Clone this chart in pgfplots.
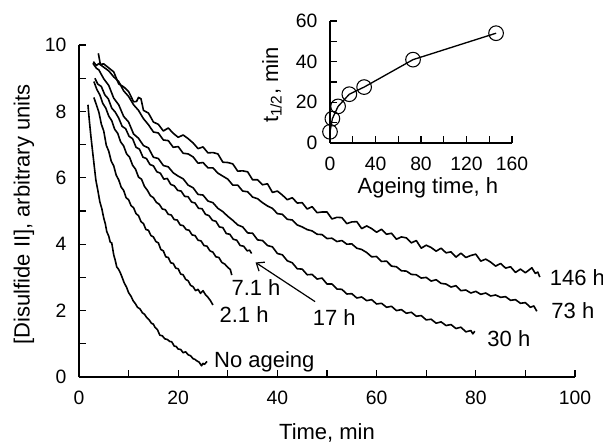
\documentclass[border=0pt]{standalone}
\usepackage{fontspec}
\setmainfont{Liberation Sans}
\usepackage{pgfplots}
\pgfplotsset{compat=1.18}
\usetikzlibrary{arrows.meta}

\newcommand{\lab}{\fontsize{16.5}{19}\selectfont}
\pgfplotsset{curve/.style={black, line width=1.2pt, mark=none, line join=round}}

\begin{document}
\begin{tikzpicture}
\useasboundingbox (-59.25pt,-49.5pt) rectangle (393pt,282.75pt);
% main plot
\begin{axis}[
  at={(0pt,0pt)}, anchor=south west,
  scale only axis, width=372pt, height=249pt,
  xmin=0, xmax=100, ymin=0, ymax=10,
  axis x line*=bottom, axis y line*=left,
  axis line style={-, line width=1pt},
  tick align=inside,
  xtick={0,20,...,100}, minor xtick={10,30,...,90},
  ytick={0,2,...,10}, minor ytick={1,3,...,9},
  major tick length=5pt, minor tick length=5pt,
  every tick/.style={black, line width=1pt},
  /pgf/number format/assume math mode=true,
  tick label style={font=\fontsize{14.5}{17}\selectfont},
  xticklabel style={yshift=-7pt},
  yticklabel style={xshift=-6pt},
  xlabel={Time, min},
  ylabel={[Disulfide II], arbitrary units},
  label style={font=\lab},
  xlabel style={at={(axis description cs:0.5,-0.169)}, anchor=center},
  ylabel style={at={(axis description cs:-0.111,0.49)}, anchor=center},
  clip=false,
]
% no ageing
\addplot[curve] coordinates {(1.8,8.20)(2.1,7.70)(2.4,7.25)(2.7,6.85)(3.0,6.45)(3.4,5.93)(3.8,5.62)(4.2,5.28)(4.6,5.07)(5.0,4.78)(5.3,4.62)(5.6,4.38)(6.0,4.24)(6.3,4.06)(6.6,4.04)(7.0,3.68)(7.3,3.52)(7.6,3.32)(8.0,3.24)(8.3,3.15)(8.7,3.00)(9.1,2.84)(9.6,2.70)(10.0,2.54)(10.5,2.43)(10.9,2.30)(11.4,2.20)(11.8,2.10)(12.3,2.05)(12.8,1.93)(13.2,1.89)(13.6,1.80)(14.1,1.73)(14.6,1.62)(15.0,1.59)(15.3,1.50)(15.8,1.43)(16.3,1.26)(16.8,1.24)(17.3,1.15)(17.8,1.13)(18.3,1.07)(18.7,1.06)(19.2,0.93)(19.6,0.92)(20.0,0.84)(20.5,0.83)(21.0,0.73)(21.5,0.76)(22.0,0.67)(22.5,0.64)(23.0,0.55)(23.4,0.53)(23.7,0.49)(24.2,0.45)(24.7,0.34)(25.0,0.41)(25.3,0.38)(25.8,0.47)};
% 2.1 h
\addplot[curve] coordinates {(3.0,8.42)(3.5,8.20)(4.0,7.98)(4.5,7.62)(5.0,7.40)(5.5,6.98)(6.0,6.80)(6.5,6.50)(7.0,6.36)(7.5,6.08)(8.0,5.94)(8.5,5.72)(9.0,5.62)(9.5,5.40)(10.0,5.34)(10.5,5.16)(11.0,5.10)(11.5,4.92)(12.0,4.86)(12.5,4.68)(13.0,4.62)(13.5,4.44)(14.0,4.42)(14.5,4.26)(15.0,4.22)(15.5,4.08)(16.0,4.04)(16.5,3.84)(17.0,3.80)(17.5,3.62)(18.0,3.60)(18.5,3.44)(19.0,3.42)(19.5,3.28)(20.0,3.26)(20.5,3.10)(21.0,3.08)(21.5,2.94)(22.0,2.90)(22.5,2.76)(23.0,2.72)(23.5,2.60)(24.0,2.64)(24.5,2.52)(25.0,2.60)(25.5,2.48)(26.0,2.40)(26.5,2.30)(27.0,2.17)};
% 7.1 h
\addplot[curve] coordinates {(3.0,8.90)(3.6,8.66)(4.2,8.50)(4.8,8.24)(5.4,8.10)(6.0,7.86)(6.6,7.72)(7.2,7.46)(7.8,7.34)(8.4,7.08)(9.0,6.96)(9.6,6.72)(10.2,6.62)(10.8,6.38)(11.4,6.26)(12.0,6.02)(12.6,5.96)(13.2,5.74)(13.8,5.62)(14.4,5.46)(15.0,5.40)(15.6,5.26)(16.2,5.20)(16.8,5.06)(17.4,5.04)(18.0,4.90)(18.6,4.88)(19.2,4.74)(19.8,4.73)(20.4,4.58)(21.0,4.56)(21.6,4.44)(22.2,4.42)(22.8,4.28)(23.4,4.26)(24.0,4.12)(24.6,4.10)(25.2,3.96)(25.8,3.94)(26.4,3.80)(27.0,3.76)(27.6,3.62)(28.2,3.60)(28.8,3.45)(29.4,3.40)(30.0,3.30)(30.5,3.24)(30.8,3.07)};
% 17 h
\addplot[curve] coordinates {(3.2,9.00)(3.8,8.82)(4.5,8.75)(5.2,8.50)(5.9,8.38)(6.6,8.10)(7.3,7.98)(8.0,7.80)(8.7,7.55)(9.4,7.48)(10.1,7.25)(10.8,7.18)(11.5,6.92)(12.2,6.86)(12.9,6.62)(13.6,6.58)(14.3,6.40)(15.0,6.36)(15.7,6.18)(16.4,6.14)(17.1,5.96)(17.8,5.98)(18.5,5.80)(19.2,5.76)(19.9,5.62)(20.6,5.60)(21.3,5.44)(22.0,5.43)(22.7,5.27)(23.4,5.24)(24.1,5.08)(24.8,5.07)(25.5,4.90)(26.2,4.86)(26.9,4.72)(27.6,4.69)(28.3,4.52)(29.0,4.50)(29.7,4.32)(30.4,4.30)(31.1,4.15)(31.8,4.12)(32.5,3.96)(33.2,3.94)(33.9,3.80)(34.4,3.82)(34.8,3.72)};
% 30 h
\addplot[curve] coordinates {(2.8,9.45)(3.5,9.30)(4,9.25)(5,8.98)(6,8.78)(7,8.40)(8,8.20)(9,7.85)(10,7.68)(11,7.32)(12,7.19)(13,6.97)(14,6.90)(15,6.62)(16,6.58)(17,6.37)(18,6.33)(19,6.15)(20,6.05)(21,5.97)(22,5.78)(23,5.70)(24,5.50)(25,5.48)(26,5.30)(27,5.25)(28,5.08)(29,4.98)(30,4.84)(31,4.72)(32,4.58)(33,4.52)(34,4.34)(35,4.33)(36,4.13)(37,4.11)(38,3.96)(39,3.92)(40,3.72)(41,3.68)(42,3.50)(43,3.44)(44,3.26)(45,3.25)(46,3.08)(47,3.09)(48,2.95)(49,2.98)(50,2.80)(51,2.80)(52,2.65)(53,2.64)(54,2.50)(55,2.51)(56,2.38)(57,2.41)(58,2.30)(59,2.33)(60,2.20)(61,2.22)(62,2.10)(63,2.13)(64,2.00)(65,2.03)(66,1.92)(67,1.95)(68,1.83)(69,1.85)(70,1.72)(71,1.74)(72,1.62)(73,1.66)(74,1.55)(75,1.58)(76,1.46)(77,1.50)(78,1.36)(79,1.40)(79.4,1.30)(79.8,1.38)};
% 73 h
\addplot[curve] coordinates {(2.9,9.50)(3.5,9.38)(4,9.44)(5,9.33)(6,9.22)(7,9.04)(8,8.90)(9,8.62)(10,8.45)(11,8.20)(12,8.03)(13,7.78)(14,7.60)(15,7.38)(16,7.35)(17,7.14)(18,7.12)(19,6.92)(20,6.94)(21,6.74)(22,6.72)(23,6.63)(24,6.44)(25,6.46)(26,6.30)(27,6.30)(28,6.14)(29,6.05)(30,5.96)(31,5.78)(32,5.78)(33,5.60)(34,5.58)(35,5.42)(36,5.37)(37,5.25)(38,5.15)(39,5.08)(40,4.92)(41,4.90)(42,4.75)(43,4.73)(44,4.58)(45,4.52)(46,4.44)(47,4.40)(48,4.30)(49,4.29)(50,4.17)(51,4.18)(52,4.08)(53,4.11)(54,4.00)(55,4.01)(56,3.88)(57,3.84)(58,3.75)(59,3.62)(60,3.63)(61,3.48)(62,3.49)(63,3.34)(64,3.32)(65,3.20)(66,3.19)(67,3.09)(68,3.08)(69,2.98)(70,3.00)(71,2.89)(72,2.93)(73,2.82)(74,2.80)(75,2.71)(76,2.75)(77,2.60)(78,2.62)(79,2.53)(80,2.58)(81,2.49)(82,2.53)(83,2.44)(84,2.47)(85,2.40)(86,2.42)(87,2.31)(88,2.33)(89,2.22)(90,2.24)(91,2.10)(91.7,2.14)(92.3,1.98)};
% 146 h
\addplot[curve] coordinates {(3.9,9.75)(4.3,9.42)(5,9.43)(6,9.31)(7,9.19)(8,8.83)(9,8.74)(10,8.60)(11,8.29)(11.6,8.30)(12,8.42)(12.5,8.38)(13,8.03)(14,7.95)(15,7.68)(16,7.61)(17,7.41)(18,7.50)(19,7.34)(20,7.22)(21,7.29)(22,7.18)(23,7.05)(24,6.88)(25,6.93)(26,6.75)(27,6.76)(28,6.72)(29,6.47)(30,6.46)(31,6.42)(32,6.20)(33,6.21)(34,6.18)(35,5.94)(36,5.94)(37,5.79)(38,5.82)(39,5.56)(40,5.60)(41,5.48)(42,5.34)(43,5.40)(44,5.24)(45,5.25)(46,5.06)(47,5.13)(48,4.95)(49,4.97)(50,4.97)(51,4.76)(52,4.81)(53,4.80)(54,4.62)(55,4.67)(56,4.68)(57,4.47)(58,4.55)(59,4.47)(60,4.36)(61,4.45)(62,4.30)(63,4.33)(64,4.15)(65,4.22)(66,4.19)(67,4.04)(68,4.11)(69,3.88)(70,3.97)(71,3.90)(72,3.79)(73,3.88)(74,3.74)(75,3.77)(76,3.61)(77,3.73)(78,3.60)(79,3.66)(80,3.70)(81,3.49)(82,3.55)(83,3.46)(84,3.34)(85,3.42)(86,3.28)(87,3.32)(88,3.15)(89,3.25)(90,3.14)(90.7,3.22)(91.3,3.29)(92,3.12)(92.5,3.16)(92.9,3.01)};

\node[anchor=west, font=\lab] at (axis cs:26.3,0.46) {No ageing};
\node[anchor=west, font=\lab] at (axis cs:27.4,1.87) {2.1 h};
\node[anchor=west, font=\lab] at (axis cs:29.8,2.68) {7.1 h};
\node[anchor=west, font=\lab] at (axis cs:46.2,1.80) {17 h};
\node[anchor=west, font=\lab] at (axis cs:81.4,1.17) {30 h};
\node[anchor=west, font=\lab] at (axis cs:94.3,2.00) {73 h};
\node[anchor=west, font=\lab] at (axis cs:94.0,3.00) {146 h};
\draw[-{Straight Barb[length=5pt,width=8pt]}, line width=0.9pt] (axis cs:47.6,2.27) -- (axis cs:35.6,3.45);
\end{axis}

% inset
\begin{axis}[
  at={(188.25pt,175.5pt)}, anchor=south west,
  scale only axis, width=136.5pt, height=91.5pt,
  xmin=0, xmax=160, ymin=0, ymax=60,
  axis x line*=bottom, axis y line*=left,
  axis line style={-, line width=1pt},
  tick align=inside,
  xtick={0,40,...,160}, minor xtick={20,60,100,140},
  ytick={0,20,40,60}, minor ytick={10,30,50},
  major tick length=5pt, minor tick length=5pt,
  every tick/.style={black, line width=1pt},
  /pgf/number format/assume math mode=true,
  tick label style={font=\fontsize{14.5}{17}\selectfont},
  xticklabel style={yshift=-7pt},
  yticklabel style={xshift=-6pt},
  xlabel={Ageing time, h},
  ylabel={t\textsubscript{1/2}, min},
  label style={font=\lab},
  xlabel style={at={(axis description cs:0.538,-0.369)}, anchor=center},
  ylabel style={at={(axis description cs:-0.319,0.475)}, anchor=center},
  clip=false,
]
\addplot[black, line width=1pt, mark=o, mark size=5.5pt, mark options={fill=white, line width=0.8pt}]
  coordinates {(0,5.5)(2.1,12)(7.1,18)(17,24)(30,27.5)(73,41)(146,54)};
\end{axis}
\end{tikzpicture}
\end{document}
